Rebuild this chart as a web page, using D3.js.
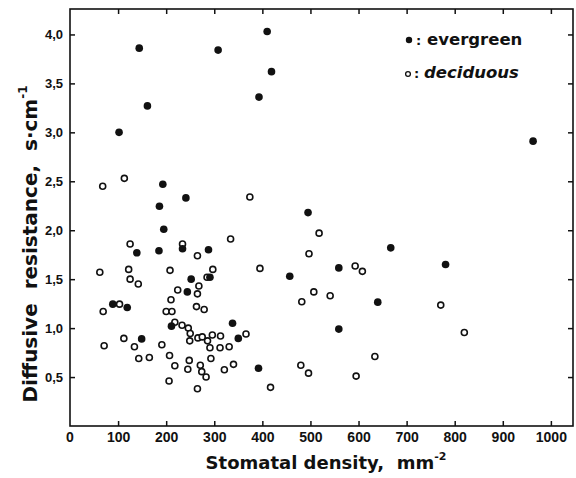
<!DOCTYPE html>
<html>
<head>
<meta charset="utf-8">
<script src="https://cdn.jsdelivr.net/npm/d3@7"></script>
<style>
  html, body { margin: 0; padding: 0; background: #fff; }
  svg { display: block; font-family: "Liberation Sans", Arial, sans-serif; }
  .title { font-family: "DejaVu Sans", sans-serif; white-space: pre; }
</style>
</head>
<body>
<script>
// evergreen species: stomatal density (mm^-2) and diffusive resistance (s cm^-1)
const evergreenX = [102, 144, 161, 308, 393, 410, 419, 963, 193, 186, 241, 495, 195, 139, 185, 234, 288,
  667, 781, 559, 457, 252, 291, 244, 89, 119, 640, 211, 338, 149, 350, 559, 392];
const evergreenY = [3.00, 3.86, 3.27, 3.84, 3.36, 4.03, 3.62, 2.91, 2.47, 2.245, 2.33, 2.18, 2.01, 1.77, 1.79, 1.81, 1.80,
  1.82, 1.65, 1.615, 1.53, 1.50, 1.52, 1.37, 1.245, 1.21, 1.265, 1.02, 1.05, 0.89, 0.895, 0.99, 0.59];

// deciduous species
const deciduousX = [68, 113, 374, 334, 125, 234, 518, 497, 265, 62, 122, 208, 297, 395, 593, 608, 125, 142,
  285, 268, 224, 265, 507, 541, 482, 771, 210, 263, 279, 103, 69, 200, 212, 218, 233, 246, 250, 249, 266,
  275, 286, 296, 313, 291, 331, 312, 366, 820, 71, 112, 134, 191, 143, 165, 207, 218, 248, 245, 271, 274,
  283, 293, 321, 340, 634, 480, 496, 595, 417, 206, 265];
const deciduousY = [2.45, 2.53, 2.34, 1.91, 1.86, 1.86, 1.97, 1.76, 1.74, 1.57, 1.60, 1.59, 1.60, 1.61, 1.635, 1.58, 1.50, 1.45,
  1.52, 1.43, 1.39, 1.35, 1.37, 1.33, 1.27, 1.235, 1.29, 1.22, 1.19, 1.245, 1.17, 1.17, 1.17, 1.06, 1.03, 1.00, 0.945, 0.87, 0.90,
  0.91, 0.87, 0.93, 0.92, 0.80, 0.81, 0.80, 0.94, 0.955, 0.82, 0.895, 0.81, 0.83, 0.69, 0.70, 0.72, 0.615, 0.67, 0.58, 0.62, 0.555,
  0.50, 0.69, 0.575, 0.63, 0.71, 0.62, 0.54, 0.51, 0.395, 0.46, 0.38];

const xTicks = [0, 100, 200, 300, 400, 500, 600, 700, 800, 900, 1000];
const yTicks = [0.5, 1.0, 1.5, 2.0, 2.5, 3.0, 3.5, 4.0];

const width = 576;
const height = 478;
const mLeft = 70, mRight = 573, mTop = 9, mBottom = 426;
const ink = '#111';

const x = d3.scaleLinear().domain([0, 1046]).range([mLeft, mRight]);
const y = d3.scaleLinear().domain([0, 4.26]).range([mBottom, mTop]);

const svg = d3.select('body').append('svg')
  .attr('width', width)
  .attr('height', height)
  .attr('viewBox', [0, 0, width, height]);

const comma = (v) => d3.format('.1f')(v).replace('.', ',');

// bottom axis with labels, ticks pointing inward
const gBottom = svg.append('g')
  .attr('transform', `translate(0,${mBottom})`)
  .call(d3.axisBottom(x).tickValues(xTicks.slice(1)).tickFormat(d3.format('d'))
    .tickSizeInner(-5).tickSizeOuter(0).tickPadding(6))
  .call((g) => g.select('.domain').remove())
  .call((g) => g.append('text')
    .attr('x', x(xTicks[0])).attr('y', 6).attr('dy', '0.71em')
    .attr('text-anchor', 'middle').text(xTicks[0]));

// top ticks
const gTop = svg.append('g')
  .attr('transform', `translate(0,${mTop})`)
  .call(d3.axisTop(x).tickValues(xTicks.slice(1)).tickSizeInner(-5).tickSizeOuter(0).tickFormat(''))
  .call((g) => g.select('.domain').remove());

// left axis
const gLeft = svg.append('g')
  .attr('transform', `translate(${mLeft},0)`)
  .call(d3.axisLeft(y).tickValues(yTicks).tickSizeInner(-5).tickSizeOuter(0).tickPadding(7).tickFormat(comma))
  .call((g) => g.select('.domain').remove());

// right ticks
const gRight = svg.append('g')
  .attr('transform', `translate(${mRight},0)`)
  .call(d3.axisRight(y).tickValues(yTicks).tickSizeInner(-5).tickSizeOuter(0).tickFormat(''))
  .call((g) => g.select('.domain').remove());

for (const g of [gBottom, gTop, gLeft, gRight]) {
  g.attr('font-family', null).attr('font-size', null);
  g.selectAll('line').attr('stroke', ink).attr('stroke-width', 1.5);
  g.selectAll('text').attr('fill', ink).attr('font-weight', 'bold');
}
gBottom.selectAll('text').attr('font-size', 14);
gLeft.selectAll('text').attr('font-size', 13);

// frame
svg.append('rect')
  .attr('x', mLeft).attr('y', mTop)
  .attr('width', mRight - mLeft).attr('height', mBottom - mTop)
  .attr('fill', 'none').attr('stroke', ink).attr('stroke-width', 1.6);

// points
svg.append('g')
  .selectAll('circle')
  .data(deciduousX.map((d, i) => [d, deciduousY[i]]))
  .join('circle')
  .attr('cx', (d) => x(d[0]))
  .attr('cy', (d) => y(d[1]))
  .attr('r', 3)
  .attr('fill', '#fff')
  .attr('stroke', ink)
  .attr('stroke-width', 1.6);

svg.append('g')
  .selectAll('circle')
  .data(evergreenX.map((d, i) => [d, evergreenY[i]]))
  .join('circle')
  .attr('cx', (d) => x(d[0]))
  .attr('cy', (d) => y(d[1]))
  .attr('r', 3.8)
  .attr('fill', ink);

// legend
const legend = svg.append('g').attr('class', 'title').attr('font-weight', 'bold').attr('fill', ink);
legend.append('circle').attr('cx', 409).attr('cy', 40).attr('r', 3.2).attr('fill', ink);
legend.append('text').attr('x', 416).attr('y', 45).attr('font-size', 13).text(':');
legend.append('text').attr('x', 427).attr('y', 45).attr('font-size', 16.5).text('evergreen');
legend.append('circle').attr('cx', 408).attr('cy', 74).attr('r', 2.4)
  .attr('fill', '#fff').attr('stroke', ink).attr('stroke-width', 1.3);
legend.append('text').attr('x', 414).attr('y', 78).attr('font-size', 13).text(':');
legend.append('text').attr('x', 424).attr('y', 78).attr('font-size', 16.5)
  .attr('font-style', 'italic').text('deciduous');

// axis titles
svg.append('text')
  .attr('class', 'title')
  .attr('x', 326).attr('y', 469)
  .attr('text-anchor', 'middle')
  .attr('font-size', 18).attr('font-weight', 'bold').attr('fill', ink)
  .call((t) => {
    t.append('tspan').text('Stomatal density,  mm');
    t.append('tspan').attr('dy', -9).attr('font-size', 11).text('-2');
  });

svg.append('text')
  .attr('class', 'title')
  .attr('transform', 'translate(37,244) rotate(-90)')
  .attr('text-anchor', 'middle')
  .attr('font-size', 20).attr('font-weight', 'bold').attr('fill', ink)
  .call((t) => {
    t.append('tspan').text('Diffusive  resistance,  s\u00b7cm');
    t.append('tspan').attr('dy', -10).attr('font-size', 12).text('-1');
  });
</script>
</body>
</html>
